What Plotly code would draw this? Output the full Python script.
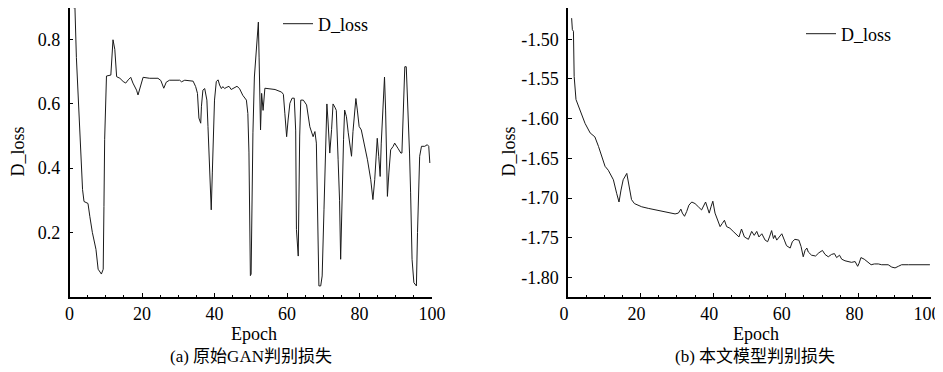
import plotly.graph_objects as go

# ---------------- data ----------------
gan_epoch = [1.0, 1.5, 1.9, 2.4, 2.6, 2.9, 3.3, 3.6, 4.0, 5.1, 5.6, 6.3, 7.3, 7.9, 8.8, 9.3, 9.5, 9.7, 10.2, 11.4,
             12.0, 12.5, 13.0, 13.9, 14.8, 15.5, 16.2, 16.9, 17.5, 18.5, 18.9, 19.6, 20.3, 22.1, 24.4, 25.2, 26.0, 26.7,
             27.6, 30.4, 30.9, 31.8, 34.1, 34.8, 35.3, 35.7, 36.2, 36.4, 36.8, 37.3, 37.9, 38.2, 38.5, 38.8, 39.1, 39.4,
             39.8, 40.0, 40.5, 41.0, 41.4, 41.9, 42.3, 42.8, 43.2, 44.0, 44.6, 45.5, 46.2, 46.9, 47.8, 48.8, 49.2, 49.5,
             49.7, 49.9, 50.1, 50.3, 50.6, 51.0, 51.6, 52.1, 52.3, 52.7, 53.0, 53.4, 53.9, 54.8, 56.7, 58.5, 59.0, 59.4,
             59.9, 60.3, 60.8, 61.4, 62.0, 62.4, 62.6, 63.1, 63.3, 63.5, 63.8, 64.5, 65.4, 66.3, 67.2, 67.7, 68.1, 68.4,
             68.8, 69.3, 69.7, 70.2, 70.6, 71.0, 71.3, 71.8, 72.3, 72.7, 73.2, 73.6, 74.1, 74.5, 74.8, 75.2, 75.6, 75.9,
             76.4, 76.9, 77.3, 77.8, 78.2, 78.7, 79.0, 79.4, 79.9, 80.5, 81.3, 82.2, 83.1, 83.7, 84.2, 84.7, 84.9, 85.3,
             85.7, 86.0, 86.5, 86.9, 87.2, 87.7, 88.1, 88.6, 89.3, 89.7, 90.6, 91.4, 91.7, 92.0, 92.5, 92.9, 93.2, 93.8,
             94.1, 94.5, 95.0, 95.7, 96.0, 96.3, 96.6, 97.1, 98.0, 98.7, 99.1, 99.4]
gan_loss = [0.90, 0.90, 0.745, 0.63, 0.55, 0.49, 0.395, 0.333, 0.296, 0.29, 0.25, 0.20, 0.147, 0.085, 0.07, 0.085, 0.28,
            0.49, 0.687, 0.69, 0.80, 0.77, 0.685, 0.68, 0.67, 0.665, 0.675, 0.683, 0.665, 0.643, 0.628, 0.66, 0.683,
            0.68, 0.68, 0.673, 0.649, 0.668, 0.674, 0.674, 0.669, 0.674, 0.671, 0.654, 0.633, 0.556, 0.54, 0.593,
            0.643, 0.648, 0.612, 0.53, 0.426, 0.31, 0.27, 0.385, 0.53, 0.612, 0.67, 0.675, 0.659, 0.648, 0.654, 0.648,
            0.651, 0.655, 0.645, 0.651, 0.655, 0.648, 0.627, 0.612, 0.57, 0.45, 0.20, 0.065, 0.07, 0.26, 0.51, 0.684,
            0.773, 0.855, 0.746, 0.519, 0.633, 0.58, 0.649, 0.648, 0.645, 0.637, 0.63, 0.571, 0.498, 0.55, 0.602,
            0.618, 0.618, 0.516, 0.209, 0.126, 0.364, 0.50, 0.612, 0.612, 0.597, 0.529, 0.498, 0.514, 0.478, 0.302,
            0.033, 0.033, 0.064, 0.27, 0.437, 0.60, 0.55, 0.447, 0.52, 0.60, 0.59, 0.58, 0.426, 0.30, 0.116, 0.343,
            0.49, 0.581, 0.56, 0.51, 0.468, 0.437, 0.514, 0.60, 0.617, 0.581, 0.530, 0.519, 0.478, 0.426, 0.364,
            0.302, 0.364, 0.478, 0.493, 0.437, 0.374, 0.478, 0.581, 0.684, 0.581, 0.312, 0.385, 0.457, 0.468, 0.478,
            0.462, 0.447, 0.447, 0.54, 0.716, 0.716, 0.633, 0.447, 0.323, 0.116, 0.043, 0.033, 0.199, 0.323, 0.437,
            0.468, 0.468, 0.473, 0.468, 0.416]

our_epoch = [1.0, 1.2, 1.5, 1.7, 2.2, 3.3, 4.7, 6.1, 7.4, 8.4, 9.3, 10.2, 11.1, 12.5, 13.4, 14.05, 14.6, 15.2, 16.2,
             16.8, 17.5, 18.3, 19.4, 20.3, 22.1, 24.9, 27.6, 29.5, 30.4, 31.1, 31.5, 32.1, 32.7, 33.3, 34.1, 35.0,
             35.9, 36.8, 37.9, 38.5, 38.9, 39.4, 39.9, 40.5, 41.2, 41.9, 42.5, 43.1, 43.7, 44.6, 45.5, 46.5, 47.1,
             47.8, 48.6, 49.7, 50.6, 51.3, 52.0, 52.6, 53.4, 54.3, 55.0, 55.5, 56.1, 56.6, 57.0, 57.5, 58.2, 58.9,
             59.6, 60.2, 61.2, 61.8, 62.5, 63.6, 64.2, 64.8, 65.3, 65.8, 66.2, 67.1, 68.2, 69.1, 70.1, 70.8, 71.7,
             72.6, 73.4, 74.0, 74.8, 75.4, 76.3, 77.2, 78.1, 79.1, 79.8, 80.2, 80.7, 81.6, 82.6, 83.5, 84.4, 85.5,
             86.4, 87.3, 88.2, 89.2, 90.1, 91.0, 91.9, 93.8, 96.5, 99.7]
our_loss = [-1.4735, -1.488, -1.490, -1.547, -1.576, -1.589, -1.606, -1.618, -1.623, -1.635, -1.648, -1.660, -1.665,
            -1.677, -1.694, -1.705, -1.690, -1.677, -1.669, -1.686, -1.702, -1.707, -1.709, -1.711, -1.713, -1.716,
            -1.718, -1.720, -1.719, -1.714, -1.719, -1.723, -1.717, -1.709, -1.705, -1.707, -1.711, -1.715, -1.705,
            -1.713, -1.719, -1.711, -1.704, -1.719, -1.728, -1.736, -1.732, -1.728, -1.736, -1.738, -1.742, -1.747,
            -1.749, -1.739, -1.749, -1.752, -1.742, -1.747, -1.742, -1.749, -1.745, -1.753, -1.755, -1.749, -1.741,
            -1.751, -1.747, -1.753, -1.749, -1.745, -1.753, -1.760, -1.763, -1.755, -1.752, -1.753, -1.761, -1.774,
            -1.766, -1.763, -1.768, -1.772, -1.773, -1.769, -1.766, -1.771, -1.774, -1.771, -1.770, -1.775, -1.772,
            -1.777, -1.779, -1.780, -1.781, -1.780, -1.786, -1.782, -1.775, -1.777, -1.781, -1.784, -1.783, -1.783,
            -1.784, -1.784, -1.784, -1.787, -1.788, -1.786, -1.784, -1.784, -1.784, -1.784]

x_ticks = [0, 20, 40, 60, 80, 100]
gan_y_ticks = [0.2, 0.4, 0.6, 0.8]
our_y_ticks = [-1.80, -1.75, -1.70, -1.65, -1.60, -1.55, -1.50]
our_y_ticktext = ["%.2f" % v for v in our_y_ticks]   # ASCII hyphen minus, as in the reference

series_name = "D_loss"
x_title = "Epoch"
y_title = "D_loss"
caption_a = "(a) 原始GAN判别损失"
caption_b = "(b) 本文模型判别损失"

# ---------------- figure ----------------
# The page body keeps its default 8px margin, so the figure is drawn 8px in from the
# top-left corner of the 943x372 window; size it and place everything accordingly.
OFF = 8
W, H = 943 - OFF, 372 - OFF

def px(x):
    return min(1.0, max(0.0, (x - OFF) / W))

def py(y):
    return min(1.0, max(0.0, 1 - (y - OFF) / H))

FONT = "'Liberation Serif', 'Times New Roman', Times, serif"
CJK_FONT = "'Liberation Serif', 'Noto Sans CJK SC', serif"
LINE_COLOR = "#1a1a1a"

fig = go.Figure()
fig.add_trace(go.Scatter(x=gan_epoch, y=gan_loss, mode="lines", name=series_name,
                         line=dict(color=LINE_COLOR, width=1), xaxis="x", yaxis="y", legend="legend"))
fig.add_trace(go.Scatter(x=our_epoch, y=our_loss, mode="lines", name=series_name,
                         line=dict(color=LINE_COLOR, width=1), xaxis="x2", yaxis="y2", legend="legend2"))

ydom = [py(296.5), py(8)]

def xa(domain, anchor, shift=0):
    return dict(domain=domain, anchor=anchor, range=[0, 100], tickvals=x_ticks, automargin=False,
                ticklabeloverflow="allow", ticklabelshift=shift,
                ticks="inside", ticklen=4, tickwidth=1, tickcolor="black",
                showline=True, linecolor="black", linewidth=1.5, showgrid=False, zeroline=False,
                tickfont=dict(family=FONT, size=18, color="black"),
                minor=dict(ticks="inside", ticklen=2, dtick=5, tickcolor="black", showgrid=False))

def ya(domain, anchor, rng, tv, tt):
    return dict(domain=domain, anchor=anchor, range=rng, tickvals=tv, ticktext=tt, automargin=False,
                ticks="inside", ticklen=4, tickwidth=1, tickcolor="black",
                showline=True, linecolor="black", linewidth=1.5, showgrid=False, zeroline=False,
                ticklabelstandoff=4,
                tickfont=dict(family=FONT, size=18, color="black"))

fig.update_layout(
    width=W, height=H,
    margin=dict(l=0, r=0, t=0, b=0, autoexpand=False),
    paper_bgcolor="white", plot_bgcolor="white",
    font=dict(family=FONT, size=18, color="black"),
    xaxis=xa([px(69.5), px(432)], "y"),
    yaxis=ya(ydom, "x", [0, 0.899], gan_y_ticks, ["%.1f" % v for v in gan_y_ticks]),
    xaxis2=xa([px(568), px(931)], "y2", shift=-4),
    yaxis2=ya(ydom, "x2", [-1.824, -1.4607], our_y_ticks, our_y_ticktext),
    legend=dict(x=px(278), y=py(24), xanchor="left", yanchor="middle",
                bgcolor="rgba(0,0,0,0)", font=dict(family=FONT, size=18, color="black")),
    legend2=dict(x=px(801), y=py(34), xanchor="left", yanchor="middle",
                 bgcolor="rgba(0,0,0,0)", font=dict(family=FONT, size=18, color="black")),
    showlegend=True,
)

ann = [
    dict(text=y_title, x=px(17.5), y=py(152), textangle=-90),
    dict(text=y_title, x=px(508.5), y=py(152), textangle=-90),
    dict(text=x_title, x=px(254), y=py(334)),
    dict(text=x_title, x=px(756), y=py(334)),
    dict(text=caption_a, x=px(251), y=py(356), font=dict(family=CJK_FONT, size=17, color="black")),
    dict(text=caption_b, x=px(755), y=py(356), font=dict(family=CJK_FONT, size=17, color="black")),
]
for a in ann:
    a.update(xref="paper", yref="paper", showarrow=False, xanchor="center", yanchor="middle")
    a.setdefault("font", dict(family=FONT, size=18, color="black"))
fig.update_layout(annotations=ann)

fig.write_html("out.html")
